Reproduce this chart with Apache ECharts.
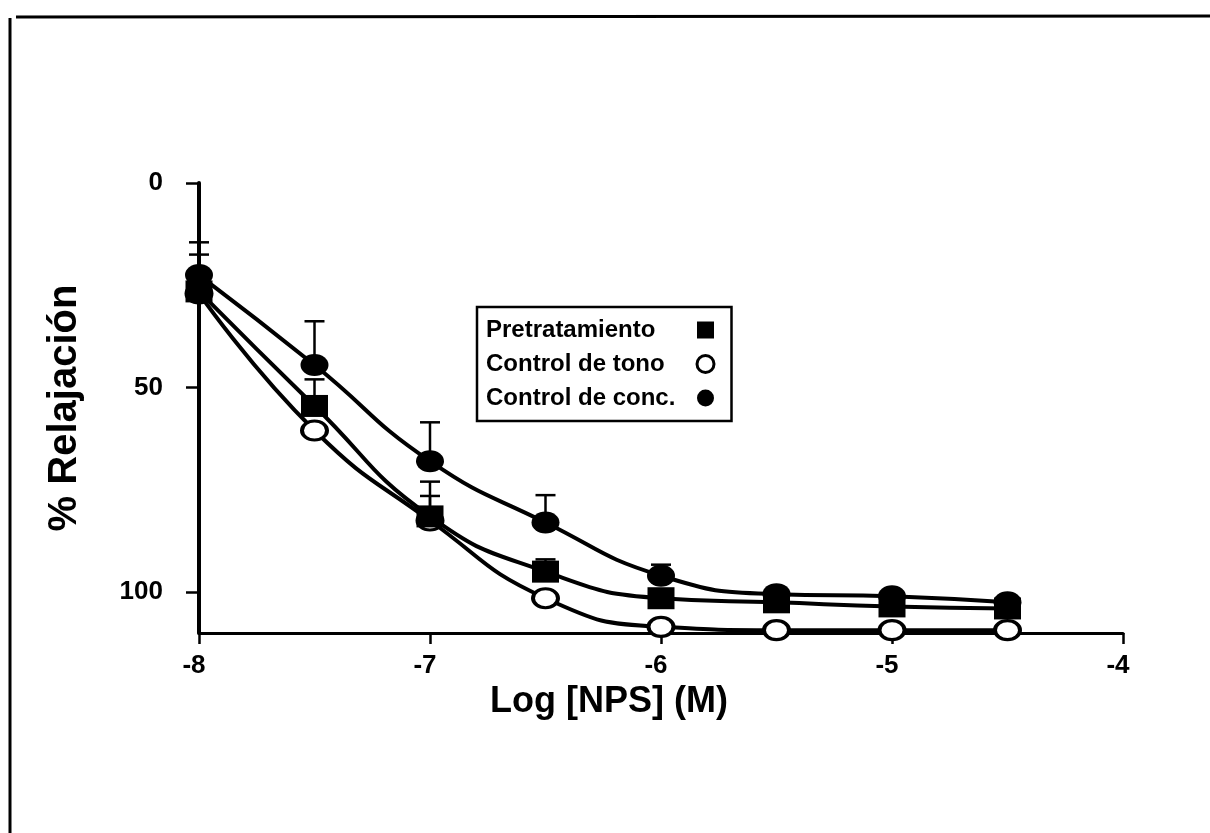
<!DOCTYPE html>
<html>
<head>
<meta charset="utf-8">
<script src="https://cdn.jsdelivr.net/npm/echarts@6/dist/echarts.min.js"></script>
<style>
html,body{margin:0;padding:0;background:#fff;}
#chart{width:1210px;height:833px;}
</style>
</head>
<body>
<div id="chart"></div>
<script>
// Data
const logConc = [-8, -7.5, -7, -6.5, -6, -5.5, -5, -4.5];
const pretratamiento = [26.5, 54.5, 81.5, 95, 101.5, 102.5, 103.5, 104];
const controlTono = [27, 60.5, 82.5, 101.5, 108.5, 109.3, 109.3, 109.3];
const controlConc = [22.5, 44.5, 68, 83, 96, 100.5, 101, 102.5];
const errPre = [9, 6.5, 5, 3, 0, 0, 0, 3];
const errTono = [0, 0, 9.5, 0, 0, 0, 0, 0];
const errConc = [8, 10.7, 9.5, 6.7, 2.7, 0, 0, 0];
const seriesNames = ['Pretratamiento', 'Control de tono', 'Control de conc.'];
const xTicks = [-8, -7, -6, -5, -4];
const yTicks = [0, 50, 100];

const FONT = 'Liberation Sans, Arial, Helvetica, sans-serif';

function pts(vals) { return logConc.map((x, i) => [x, vals[i]]); }
function errPts(vals, errs) {
  return logConc.map((x, i) => [x, vals[i], errs[i]]).filter(d => d[2] > 0);
}
function errSeries(vals, errs) {
  return {
    type: 'custom',
    z: 1,
    silent: true,
    data: errPts(vals, errs),
    renderItem: function (params, api) {
      const x = api.value(0), y = api.value(1), e = api.value(2);
      const p0 = api.coord([x, y]);
      const p1 = api.coord([x, y - e]);
      const hw = 10;
      return {
        type: 'group',
        children: [
          { type: 'line', shape: { x1: p0[0], y1: p0[1], x2: p1[0], y2: p1[1] }, style: { stroke: '#000', lineWidth: 2.5 } },
          { type: 'line', shape: { x1: p1[0] - hw, y1: p1[1], x2: p1[0] + hw, y2: p1[1] }, style: { stroke: '#000', lineWidth: 2.5 } }
        ]
      };
    }
  };
}

const chart = echarts.init(document.getElementById('chart'), null, { renderer: 'canvas' });
const option = {
  backgroundColor: '#fff',
  animation: false,
  graphic: [
    { type: 'line', shape: { x1: 16, y1: 17, x2: 1210, y2: 16 }, style: { stroke: '#000', lineWidth: 3 } },
    { type: 'line', shape: { x1: 10, y1: 18, x2: 10, y2: 833 }, style: { stroke: '#000', lineWidth: 3 } }
  ],
  grid: { left: 199, right: 87, top: 183, bottom: 200, containLabel: false },
  legend: {
    orient: 'vertical',
    left: 477,
    top: 307,
    align: 'right',
    selectedMode: false,
    backgroundColor: '#fff',
    borderColor: '#000',
    borderWidth: 2.5,
    borderRadius: 0,
    padding: [11, 16, 11, 9],
    itemGap: 10,
    itemWidth: 17,
    itemHeight: 17,
    formatter: '{a|{name}}',
    textStyle: {
      fontFamily: FONT, fontSize: 24, fontWeight: 'bold', color: '#000', lineHeight: 20,
      rich: { a: { width: 206, align: 'left', fontFamily: FONT, fontSize: 24, fontWeight: 'bold', color: '#000', lineHeight: 20 } }
    },
    data: [
      { name: seriesNames[0], icon: 'rect', itemStyle: { color: '#000', borderWidth: 0 } },
      { name: seriesNames[1], icon: 'circle', itemStyle: { color: '#fff', borderColor: '#000', borderWidth: 3 } },
      { name: seriesNames[2], icon: 'circle', itemStyle: { color: '#000', borderWidth: 0 } }
    ]
  },
  xAxis: {
    type: 'value',
    min: xTicks[0], max: xTicks[xTicks.length - 1], interval: 1,
    name: 'Log [NPS] (M)',
    nameLocation: 'middle',
    nameGap: 48,
    nameTextStyle: { fontFamily: FONT, fontSize: 36, fontWeight: 'bold', color: '#000', padding: [0, 104, 0, 0] },
    axisLine: { show: true, onZero: false, lineStyle: { color: '#000', width: 3 } },
    axisTick: { show: true, inside: false, length: 11, lineStyle: { color: '#000', width: 2.5 } },
    axisLabel: { margin: 20, fontFamily: FONT, fontSize: 26, fontWeight: 'bold', color: '#000', padding: [0, 10, 0, 0],
      formatter: v => xTicks.includes(v) ? String(v) : '' },
    splitLine: { show: false }
  },
  yAxis: {
    type: 'value',
    inverse: true,
    min: 0, max: 110, interval: 50,
    name: '% Relajación',
    nameLocation: 'middle',
    nameGap: 114,
    nameTextStyle: { fontFamily: FONT, fontSize: 40, fontWeight: 'bold', color: '#000' },
    axisLine: { show: true, onZero: false, lineStyle: { color: '#000', width: 4 } },
    axisTick: { show: true, inside: false, length: 13, lineStyle: { color: '#000', width: 2.5 } },
    axisLabel: { margin: 36, fontFamily: FONT, fontSize: 26, fontWeight: 'bold', color: '#000', showMaxLabel: false,
      formatter: v => yTicks.includes(v) ? String(v) : '' },
    splitLine: { show: false }
  },
  series: [
    errSeries(controlConc, errConc),
    errSeries(pretratamiento, errPre),
    errSeries(controlTono, errTono),
    {
      name: seriesNames[1], type: 'line', z: 3, data: pts(controlTono),
      smooth: 0.5,
      symbol: 'circle', symbolSize: [25, 19],
      lineStyle: { color: '#000', width: 4 },
      itemStyle: { color: '#fff', borderColor: '#000', borderWidth: 3.5 }
    },
    {
      name: seriesNames[0], type: 'line', z: 4, data: pts(pretratamiento),
      smooth: 0.5,
      symbol: 'rect', symbolSize: [27, 22],
      lineStyle: { color: '#000', width: 4 },
      itemStyle: { color: '#000', borderWidth: 0 }
    },
    {
      name: seriesNames[2], type: 'line', z: 5, data: pts(controlConc),
      smooth: 0.5,
      symbol: 'circle', symbolSize: [28, 22],
      lineStyle: { color: '#000', width: 4 },
      itemStyle: { color: '#000', borderWidth: 0 }
    }
  ]
};
chart.setOption(option);
</script>
</body>
</html>
